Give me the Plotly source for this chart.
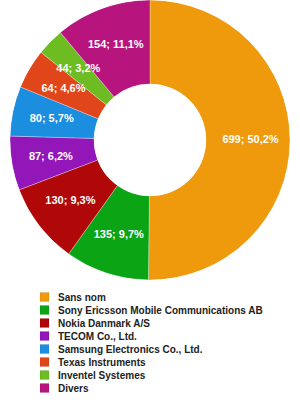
import plotly.graph_objects as go

labels = ["Sans nom", "Sony Ericsson Mobile Communications AB", "Nokia Danmark A/S",
          "TECOM Co., Ltd.", "Samsung Electronics Co., Ltd.", "Texas Instruments",
          "Inventel Systemes", "Divers"]
values = [699, 135, 130, 87, 80, 64, 44, 154]
colors = ["#ee9a0c", "#0aa414", "#b00808", "#9216b8", "#1c8ee0", "#e0461a", "#6cbc22", "#b8147e"]

W, H = 300, 400

# angular geometry derived from the values (donut drawn as barpolar)
total = sum(values)
spans, mids, texts = [], [], []
cum = 0
for v in values:
    span = v / total * 360
    spans.append(span)
    mids.append(cum + span / 2)
    cum += span
    texts.append(f"{v}; {v / total * 100:.1f}%".replace(".", ","))

fig = go.Figure()
fig.add_trace(go.Barpolar(
    r=[1] * len(values), theta=mids, width=spans,
    marker=dict(color=colors, line=dict(color="rgba(255,255,255,0.6)", width=0.5)),
    customdata=list(zip(labels, values)),
    hovertemplate="%{customdata[0]}: %{customdata[1]}<extra></extra>",
    showlegend=False,
))
fig.add_trace(go.Scatterpolar(
    r=[0.53] * len(values), theta=mids, mode="text", text=texts,
    textfont=dict(family="Liberation Sans, Arial", size=11, color="white", weight="bold"),
    hoverinfo="skip", showlegend=False,
))

# custom compact legend (layout decoration built from labels/colors)
legend_top = 297      # px, centre of first row
legend_step = 13      # px between rows
sq = 9
shapes, annotations = [], []
for i, (lab, col) in enumerate(zip(labels, colors)):
    yc = legend_top + i * legend_step
    shapes.append(dict(type="rect", xref="paper", yref="paper",
                       x0=40/W, x1=(40+sq)/W,
                       y0=1-(yc+sq/2)/H, y1=1-(yc-sq/2)/H,
                       fillcolor=col, line=dict(color="rgba(0,0,0,0.15)", width=0.5)))
    annotations.append(dict(xref="paper", yref="paper", x=56/W, y=1-yc/H,
                            xanchor="left", yanchor="middle", showarrow=False,
                            text=lab,
                            font=dict(family="Liberation Sans, Arial", size=10,
                                      color="#222222", weight="bold")))

fig.update_layout(
    width=W, height=H,
    margin=dict(l=0, r=0, t=0, b=0),
    paper_bgcolor="white", plot_bgcolor="white",
    showlegend=False,
    polar=dict(
        domain=dict(x=[8/W, 292/W], y=[120/H, 1.0]),
        hole=0.4,
        bgcolor="rgba(0,0,0,0)",
        bargap=0,
        radialaxis=dict(range=[0, 1], visible=False, showgrid=False),
        angularaxis=dict(direction="clockwise", rotation=90, visible=False,
                         showgrid=False, thetaunit="degrees"),
    ),
    shapes=shapes, annotations=annotations,
)

fig.write_html("out.html")
